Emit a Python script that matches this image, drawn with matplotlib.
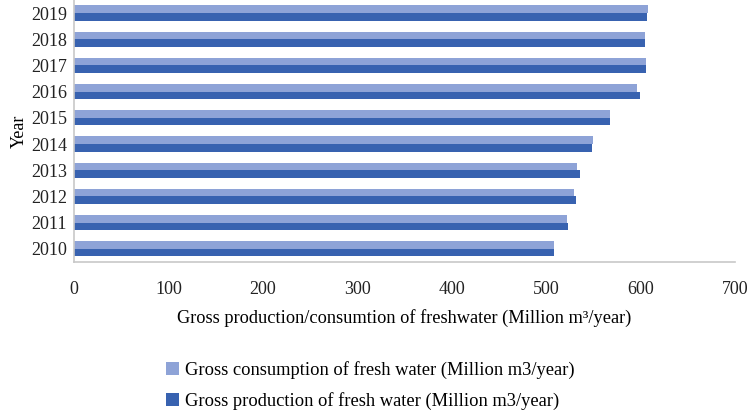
import numpy as np
import matplotlib.pyplot as plt

# dati
anni = ["2010", "2011", "2012", "2013", "2014", "2015", "2016", "2017", "2018", "2019"]
consumo = [508, 522, 530, 533, 550, 568, 596, 606, 605, 608]
produzione = [508, 523, 532, 536, 549, 568, 599, 606, 605, 607]

plt.rcParams['font.family'] = ['Liberation Serif', 'DejaVu Serif']

col_consumo = "#8EA3D7"
col_produzione = "#3862B0"

fig = plt.figure(figsize=(7.47, 4.15), dpi=100)
ax = fig.add_axes([0.099, 0.369, 0.885, 0.631])

y = np.arange(len(anni))
h = 0.29
b1 = ax.barh(y + h / 2, consumo, height=h, color=col_consumo,
             label="Gross consumption of fresh water (Million m3/year)")
b2 = ax.barh(y - h / 2, produzione, height=h, color=col_produzione,
             label="Gross production of fresh water (Million m3/year)")

ax.set_xlim(0, 700)
ax.set_ylim(-0.5, len(anni) - 0.5)
ax.set_xticks(range(0, 701, 100))
ax.set_yticks(y)
ax.set_yticklabels(anni)
ax.tick_params(length=0, labelsize=13, colors="#222222")
ax.tick_params(axis="x", pad=14)
ax.tick_params(axis="y", pad=5)

for s in ["top", "right"]:
    ax.spines[s].set_visible(False)
for s in ["left", "bottom"]:
    ax.spines[s].set_color("#C8C8C8")
    ax.spines[s].set_linewidth(1.2)

ax.set_xlabel("Gross production/consumtion of freshwater (Million m³/year)",
              fontsize=13.2, labelpad=8)
ax.set_ylabel("Year", fontsize=13, labelpad=2)

fig.legend(handles=[b1, b2], loc="upper left", bbox_to_anchor=(0.213, 0.147),
           frameon=False, fontsize=13.3, handlelength=0.7, handleheight=0.7,
           handletextpad=0.3, labelspacing=0.7, borderaxespad=0)

fig.savefig("out.png", dpi=100)
